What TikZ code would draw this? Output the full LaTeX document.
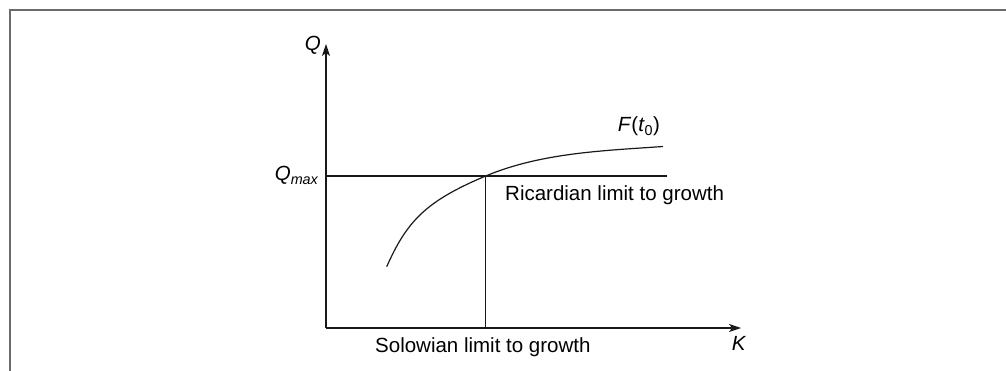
\documentclass[tikz,border=0pt]{standalone}
\usepackage{fontspec}
\setmainfont{Liberation Sans}
\usetikzlibrary{arrows.meta}
\begin{document}
\begin{tikzpicture}[x=1pt,y=-1pt,
  lbl/.style={inner sep=0pt,font=\fontsize{20.5}{24}\selectfont},
  ln/.style={line width=1.2pt,black!90},
  axis/.style={ln,-{Stealth[length=12pt,width=8pt,inset=3pt]}},
  frame/.style={line width=2pt,black!58}]
\useasboundingbox (0,0) rectangle (1006,371);
\draw[frame] (9.5,375) -- (9.5,10.5) -- (1010,10.5);
\coordinate (O) at (326,328);
\coordinate (Ytop) at (326,44);
\coordinate (Xend) at (741,328);
\coordinate (Qm) at (326,176);
\coordinate (P) at (485.7,176);
\coordinate (Qmend) at (667,176);
\coordinate (Pb) at (485.7,328);
\coordinate (Fs) at (386.7,266.7);
\coordinate (Fe) at (663,146.5);
\draw[axis] (O) -- (Ytop);
\draw[axis] (O) -- (Xend);
\draw[ln] (Qm) -- (Qmend);
\draw[ln] (P) -- (Pb);
\draw[ln] (Fs) .. controls (407,221) and (425.8,201.2) .. (P)
  .. controls (541,152.8) and (603.1,150.7) .. (Fe);
\node[lbl,anchor=base east] (qlab) at (321,51) {\textit{Q}};
\node[lbl,anchor=base east] (qmax) at (319,181) {\textit{Q}\textsubscript{\textit{max}}};
\node[lbl,anchor=base] (klab) at (739,350) {\textit{K}};
\node[lbl,anchor=base] (flab) at (639,132) {\textit{F}(\textit{t}\textsubscript{0})};
\node[lbl,anchor=base west] (ric) at (505,201) {Ricardian limit to growth};
\node[lbl,anchor=base west] (sol) at (375,352) {Solowian limit to growth};
\end{tikzpicture}
\end{document}
